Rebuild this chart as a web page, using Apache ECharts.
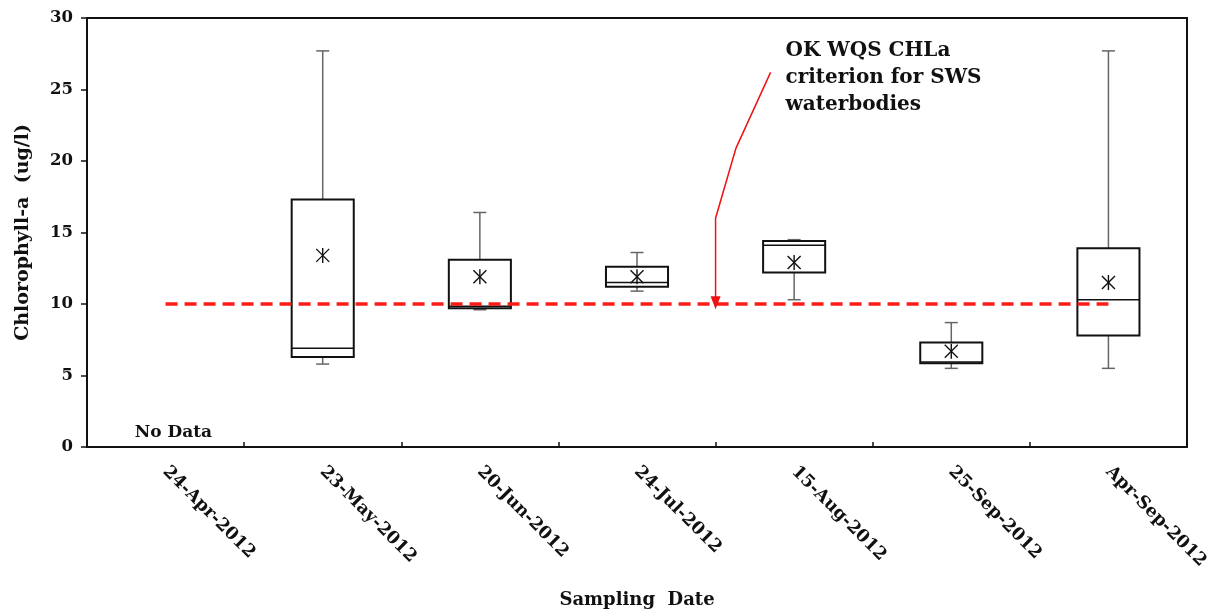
<!DOCTYPE html>
<html>
<head>
<meta charset="utf-8">
<script src="https://cdn.jsdelivr.net/npm/echarts@6/dist/echarts.min.js"></script>
<style>html,body{margin:0;padding:0;background:#fff;}#chart{width:1214px;height:615px;}</style>
</head>
<body>
<div id="chart"></div>
<script>
const categories = ['24-Apr-2012','23-May-2012','20-Jun-2012','24-Jul-2012','15-Aug-2012','25-Sep-2012','Apr-Sep-2012'];
const whiskerLow  = [null, 5.8, 9.6, 10.9, 10.3, 5.5, 5.5];
const q1          = [null, 6.3, 9.7, 11.2, 12.2, 5.85, 7.8];
const median      = [null, 6.9, 9.85, 11.5, 14.1, 5.95, 10.3];
const q3          = [null, 17.3, 13.1, 12.6, 14.4, 7.3, 13.9];
const whiskerHigh = [null, 27.7, 16.4, 13.6, 14.5, 8.7, 27.7];
const means       = [null, 13.4, 11.9, 11.9, 12.9, 6.7, 11.5];
const criterion = 10;
const yTicks = [0, 5, 10, 15, 20, 25, 30];
const noDataLabel = 'No Data';
const annotationText = 'OK WQS CHLa\ncriterion for SWS\nwaterbodies';
// annotation geometry in (category index, value) units
const arrowRoute = [[3.85, 26.2], [3.63, 20.9], [3.5, 16.0], [3.5, 9.7]];
const annotationAnchor = [3.945, 28.65];
const noDataAnchor = [0.05, 1.0];

const FONT = '"DejaVu Serif", "Liberation Serif", serif';
const INK = '#111';

const boxData = [];
categories.forEach((c, i) => {
  if (q1[i] != null) boxData.push([i, whiskerLow[i], q1[i], median[i], q3[i], whiskerHigh[i], means[i]]);
});

const chart = echarts.init(document.getElementById('chart'), null, {renderer: 'canvas'});

function renderBox(params, api) {
  const x = api.value(0);
  const pLow = api.coord([x, api.value(1)]);
  const pQ1 = api.coord([x, api.value(2)]);
  const pMed = api.coord([x, api.value(3)]);
  const pQ3 = api.coord([x, api.value(4)]);
  const pHigh = api.coord([x, api.value(5)]);
  const pMean = api.coord([x, api.value(6)]);
  const band = api.size([1, 0])[0];
  const bw = band * 0.395;
  const cx = pQ1[0];
  const cap = 6.5;
  const whiskerStyle = {stroke: '#666', lineWidth: 1.5};
  const boxStyle = {stroke: INK, lineWidth: 2, fill: '#fff'};
  const m = 6.5;
  return {
    type: 'group',
    children: [
      {type: 'line', shape: {x1: cx, y1: pQ3[1], x2: cx, y2: pHigh[1]}, style: whiskerStyle},
      {type: 'line', shape: {x1: cx - cap, y1: pHigh[1], x2: cx + cap, y2: pHigh[1]}, style: whiskerStyle},
      {type: 'line', shape: {x1: cx, y1: pQ1[1], x2: cx, y2: pLow[1]}, style: whiskerStyle},
      {type: 'line', shape: {x1: cx - cap, y1: pLow[1], x2: cx + cap, y2: pLow[1]}, style: whiskerStyle},
      {type: 'rect', shape: {x: cx - bw / 2, y: pQ3[1], width: bw, height: pQ1[1] - pQ3[1]}, style: boxStyle, z2: 2},
      {type: 'line', shape: {x1: cx - bw / 2, y1: pMed[1], x2: cx + bw / 2, y2: pMed[1]}, style: {stroke: INK, lineWidth: 1.5}, z2: 3},
      {type: 'line', shape: {x1: pMean[0] - m, y1: pMean[1] - m, x2: pMean[0] + m, y2: pMean[1] + m}, style: {stroke: INK, lineWidth: 1.4}, z2: 4},
      {type: 'line', shape: {x1: pMean[0] + m, y1: pMean[1] - m, x2: pMean[0] - m, y2: pMean[1] + m}, style: {stroke: INK, lineWidth: 1.4}, z2: 4},
      {type: 'line', shape: {x1: pMean[0], y1: pMean[1] - m - 1, x2: pMean[0], y2: pMean[1] + m + 1}, style: {stroke: INK, lineWidth: 1.4}, z2: 4}
    ]
  };
}

function renderAnnotation(params, api) {
  const pts = arrowRoute.map(p => api.coord(p));
  const tip = pts[pts.length - 1];
  const txt = api.coord(annotationAnchor);
  const nd = api.coord(noDataAnchor);
  return {
    type: 'group',
    children: [
      {type: 'polyline', shape: {points: pts.slice(0, -1).concat([[tip[0], tip[1] - 6]])}, style: {stroke: '#ee1111', lineWidth: 1.5, fill: null}},
      {type: 'polygon', shape: {points: [[tip[0] - 5, tip[1] - 12], [tip[0] + 5, tip[1] - 12], [tip[0], tip[1] + 1]]}, style: {fill: '#ee1111'}},
      {type: 'text', x: txt[0], y: txt[1], style: {text: annotationText, font: 'bold 20px ' + FONT, fill: INK, lineHeight: 27, align: 'left', verticalAlign: 'top'}},
      {type: 'text', x: nd[0], y: nd[1], style: {text: noDataLabel, font: 'bold 17px ' + FONT, fill: INK, align: 'center', verticalAlign: 'middle'}}
    ]
  };
}

const option = {
  animation: false,
  backgroundColor: '#fff',
  grid: {left: 87, right: 27, top: 18, bottom: 168, containLabel: false},
  xAxis: [
    {
      type: 'category', data: categories, boundaryGap: true,
      axisLine: {show: true, lineStyle: {color: INK, width: 2}},
      axisTick: {show: true, inside: true, length: 5, alignWithLabel: false, lineStyle: {color: INK, width: 1.5}},
      axisLabel: {rotate: -45, margin: 22, interval: 0, color: INK, fontFamily: FONT, fontWeight: 'bold', fontSize: 17.5},
      splitLine: {show: false},
      name: 'Sampling  Date', nameLocation: 'middle', nameGap: 144,
      nameTextStyle: {color: INK, fontFamily: FONT, fontWeight: 'bold', fontSize: 18}
    },
    {
      type: 'value', position: 'top', min: -0.5, max: 6.5,
      axisLine: {show: true, onZero: false, lineStyle: {color: INK, width: 2}},
      axisTick: {show: false}, axisLabel: {show: false}, splitLine: {show: false}
    }
  ],
  yAxis: [
    {
      type: 'value', min: 0, max: 30, interval: 5,
      axisLine: {show: true, onZero: false, lineStyle: {color: INK, width: 2}},
      axisTick: {show: true, inside: false, length: 6, lineStyle: {color: INK, width: 1.5}},
      axisLabel: {margin: 14, color: INK, fontFamily: FONT, fontWeight: 'bold', fontSize: 16.5,
        formatter: v => yTicks.indexOf(v) >= 0 ? String(v) : ''},
      splitLine: {show: false},
      name: 'Chlorophyll-a  (ug/l)', nameLocation: 'middle', nameGap: 54,
      nameTextStyle: {color: INK, fontFamily: FONT, fontWeight: 'bold', fontSize: 19}
    },
    {
      type: 'value', position: 'right', min: 0, max: 30,
      axisLine: {show: true, onZero: false, lineStyle: {color: INK, width: 2}},
      axisTick: {show: false}, axisLabel: {show: false}, splitLine: {show: false}
    }
  ],
  series: [
    {
      type: 'line', xAxisIndex: 0, yAxisIndex: 0, data: [], silent: true,
      markLine: {
        silent: true, symbol: 'none', animation: false,
        lineStyle: {color: '#ff1a1a', type: [12, 7], width: 3.5},
        label: {show: false},
        data: [[{coord: [0, criterion]}, {coord: [6, criterion]}]]
      }
    },
    {
      type: 'custom', xAxisIndex: 0, yAxisIndex: 0, data: boxData,
      renderItem: renderBox, z: 3,
      encode: {x: 0, y: [1, 2, 3, 4, 5, 6]}
    },
    {
      type: 'custom', xAxisIndex: 1, yAxisIndex: 1, data: [[0, 0]],
      renderItem: renderAnnotation, z: 6
    }
  ]
};
chart.setOption(option);
</script>
</body>
</html>
